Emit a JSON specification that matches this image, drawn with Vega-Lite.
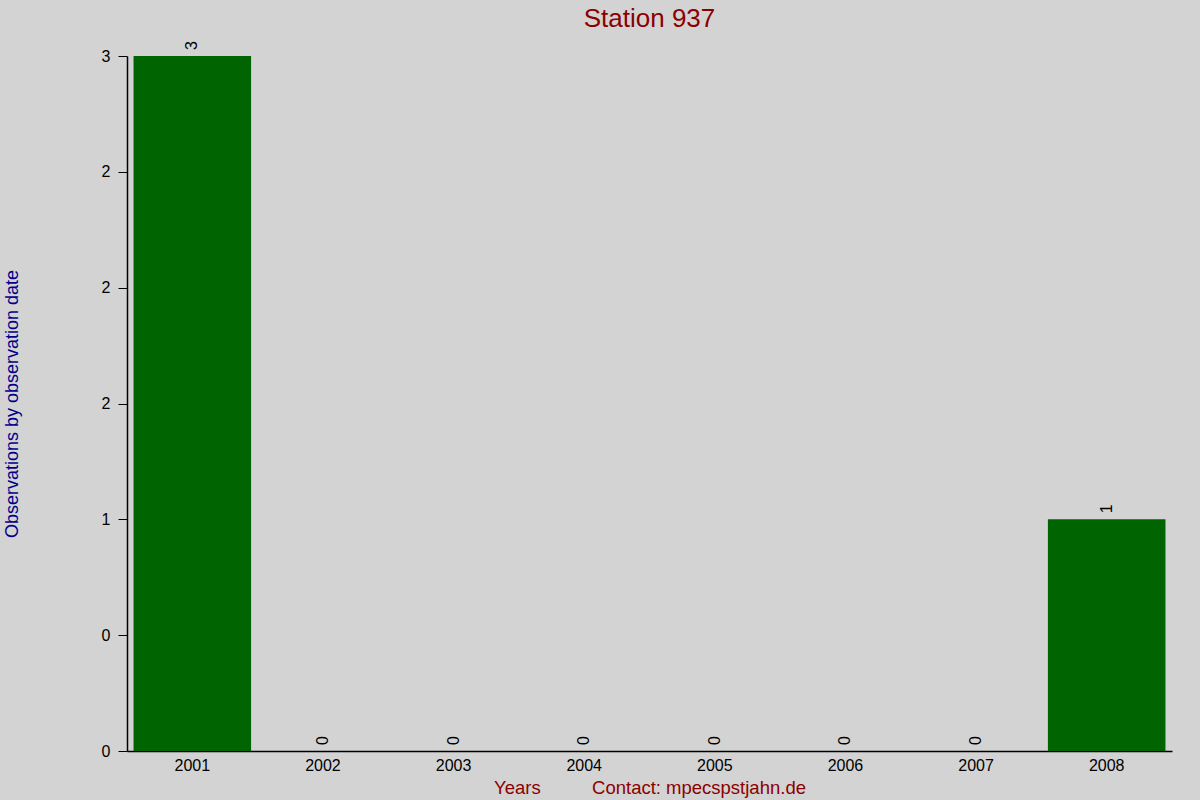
{
  "$schema": "https://vega.github.io/schema/vega-lite/v6.json",
  "autosize": {"type": "none"},
  "width": 1045,
  "height": 695,
  "padding": {"left": 127, "top": 56, "right": 28, "bottom": 49},
  "background": "#d3d3d3",
  "title": {
    "text": "Station 937",
    "color": "#8b0000",
    "fontSize": 26,
    "fontWeight": "normal",
    "font": "Liberation Sans",
    "anchor": "middle",
    "offset": 9
  },
  "config": {
    "view": {"stroke": null},
    "font": "Liberation Sans"
  },
  "data": {
    "values": [
      {"year": "2001", "count": 3},
      {"year": "2002", "count": 0},
      {"year": "2003", "count": 0},
      {"year": "2004", "count": 0},
      {"year": "2005", "count": 0},
      {"year": "2006", "count": 0},
      {"year": "2007", "count": 0},
      {"year": "2008", "count": 1}
    ]
  },
  "encoding": {
    "x": {
      "field": "year",
      "type": "ordinal",
      "scale": {"paddingInner": 0.1, "paddingOuter": 0.05},
      "axis": {
        "title": "Years\u00a0\u00a0\u00a0\u00a0\u00a0\u00a0\u00a0\u00a0\u00a0\u00a0Contact: mpecspstjahn.de",
        "titleColor": "#8b0000",
        "titleFontSize": 18.5,
        "titleFontWeight": "normal",
        "titlePadding": 5,
        "labelAngle": 0,
        "labelFontSize": 16,
        "labelColor": "#000000",
        "labelPadding": 6,
        "ticks": false,
        "domainColor": "#000000",
        "domainWidth": 1.5
      }
    },
    "y": {
      "field": "count",
      "type": "quantitative",
      "scale": {"domain": [0, 3], "nice": false},
      "axis": {
        "title": "Observations by observation date",
        "titleColor": "#00008b",
        "titleFontSize": 18,
        "titleFontWeight": "normal",
        "titlePadding": 80,
        "values": [0, 0.5, 1, 1.5, 2, 2.5, 3],
        "labelExpr": "datum.value == 0.5 ? '0' : datum.value == 1.5 ? '2' : datum.value == 2.5 ? '2' : format(datum.value, '.0f')",
        "labelFontSize": 16,
        "labelColor": "#000000",
        "labelPadding": 8,
        "tickSize": 9,
        "tickColor": "#000000",
        "domainColor": "#000000",
        "domainWidth": 1.5,
        "grid": false
      }
    }
  },
  "layer": [
    {
      "mark": {"type": "bar", "color": "#006400"}
    },
    {
      "mark": {
        "type": "text",
        "angle": 270,
        "align": "left",
        "baseline": "middle",
        "dx": 6,
        "fontSize": 16,
        "color": "#000000"
      },
      "encoding": {
        "text": {"field": "count", "type": "quantitative"}
      }
    }
  ]
}
